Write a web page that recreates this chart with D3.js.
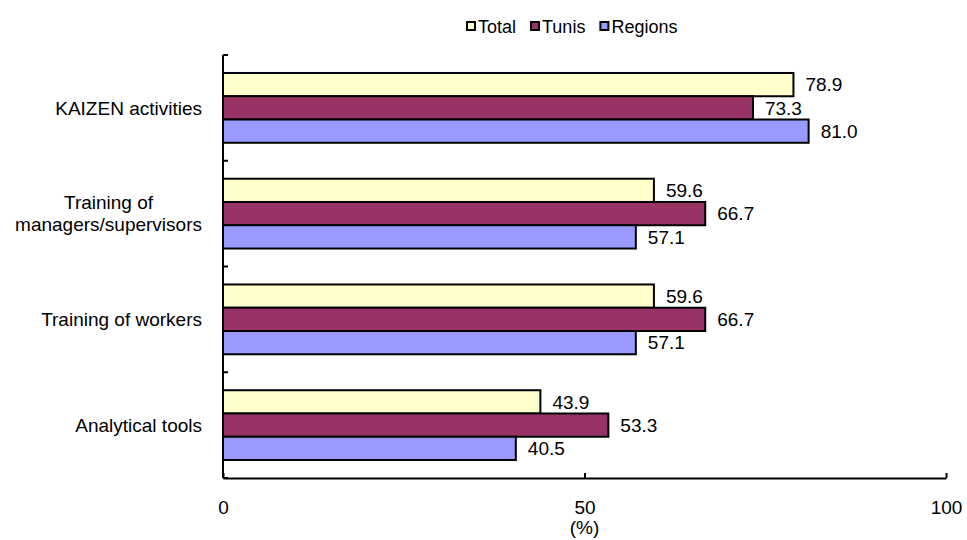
<!DOCTYPE html>
<html>
<head>
<meta charset="utf-8">
<script src="https://cdn.jsdelivr.net/npm/d3@7"></script>
<style>
  body { margin: 0; background: #fff; }
  text { font-family: "Liberation Sans", Arial, sans-serif; fill: #000; }
</style>
</head>
<body>
<div id="container"></div>
<script>
// data
var categories = ["KAIZEN activities", "Training of\nmanagers/supervisors", "Training of workers", "Analytical tools"];
var seriesNames = ["Total", "Tunis", "Regions"];
var totalValues = [78.9, 59.6, 59.6, 43.9];
var tunisValues = [73.3, 66.7, 66.7, 53.3];
var regionValues = [81.0, 57.1, 57.1, 40.5];
var xTicks = [0, 50, 100];
var colors = ["#FFFFCC", "#993366", "#9999FF"];

var seriesValues = [totalValues, tunisValues, regionValues];

var W = 967, H = 540;
var fs = "19px";
var svg = d3.select("#container").append("svg").attr("width", W).attr("height", H);

var plotLeft = 223, plotRight = 946, plotTop = 55, plotBottom = 478;

var xScale = d3.scaleLinear().domain([0, 100]).range([plotLeft, plotRight]);
var yScale = d3.scaleBand().domain(categories).range([plotTop, plotBottom])
               .paddingInner(0.34).paddingOuter(0.17);
var inner = d3.scaleBand().domain(seriesNames).range([0, yScale.bandwidth()]);

// bars
categories.forEach(function(c, ci) {
  seriesNames.forEach(function(s, si) {
    var v = seriesValues[si][ci];
    var y = yScale(c) + inner(s);
    svg.append("rect")
       .attr("x", xScale(0))
       .attr("y", y)
       .attr("width", xScale(v) - xScale(0))
       .attr("height", inner.bandwidth())
       .attr("fill", colors[si])
       .attr("stroke", "#000")
       .attr("stroke-width", 2);
    svg.append("text")
       .attr("x", xScale(v) + 12)
       .attr("y", y + inner.bandwidth() / 2)
       .attr("dy", "0.36em")
       .style("font-size", fs)
       .text(v.toFixed(1));
  });
});

// y axis: line with ticks at band boundaries pointing inward
var gy = svg.append("g");
gy.append("line").attr("x1", plotLeft).attr("x2", plotLeft).attr("y1", plotTop).attr("y2", plotBottom)
  .attr("stroke", "#000").attr("stroke-width", 2);
var step = yScale.step();
for (var i = 0; i <= categories.length; i++) {
  var yy = plotTop + i * step;
  gy.append("line").attr("x1", plotLeft).attr("x2", plotLeft + 5).attr("y1", yy).attr("y2", yy)
    .attr("stroke", "#000").attr("stroke-width", 2);
}

// category labels (multi-line ones are centred on each other, block right-aligned)
categories.forEach(function(c) {
  var lines = c.split("\n");
  var t = svg.append("text").style("font-size", fs).attr("text-anchor", "middle");
  var lh = 22;
  var cy = yScale(c) + yScale.bandwidth() / 2;
  lines.forEach(function(l, li) {
    t.append("tspan").attr("x", 0).attr("y", cy + (li - (lines.length - 1) / 2) * lh)
     .attr("dy", "0.36em").text(l);
  });
  var w = t.node().getBBox().width;
  t.selectAll("tspan").attr("x", 202 - w / 2);
});

// x axis
var xAxis = d3.axisBottom(xScale).tickValues(xTicks).tickSize(-5).tickPadding(23).tickSizeOuter(0);
var gx = svg.append("g").attr("transform", "translate(0," + plotBottom + ")").call(xAxis);
gx.select(".domain").attr("stroke-width", 2);
gx.selectAll(".tick line").attr("stroke-width", 2);
gx.selectAll(".tick text").style("font-size", fs).style("font-family", "Liberation Sans, Arial, sans-serif");

svg.append("text").attr("x", xScale(50)).attr("y", 534).attr("text-anchor", "middle")
   .style("font-size", fs).text("(%)");

// legend
var lg = svg.append("g");
var lx = 466;
seriesNames.forEach(function(s, si) {
  lg.append("rect").attr("x", lx + 1).attr("y", 22).attr("width", 8).attr("height", 8)
    .attr("fill", colors[si]).attr("stroke", "#000").attr("stroke-width", 2);
  var t = lg.append("text").attr("x", lx + 12).attr("y", 27).attr("dy", "0.36em")
    .style("font-size", "18px").text(s);
  lx += 12 + t.node().getComputedTextLength() + 14;
});
</script>
</body>
</html>
